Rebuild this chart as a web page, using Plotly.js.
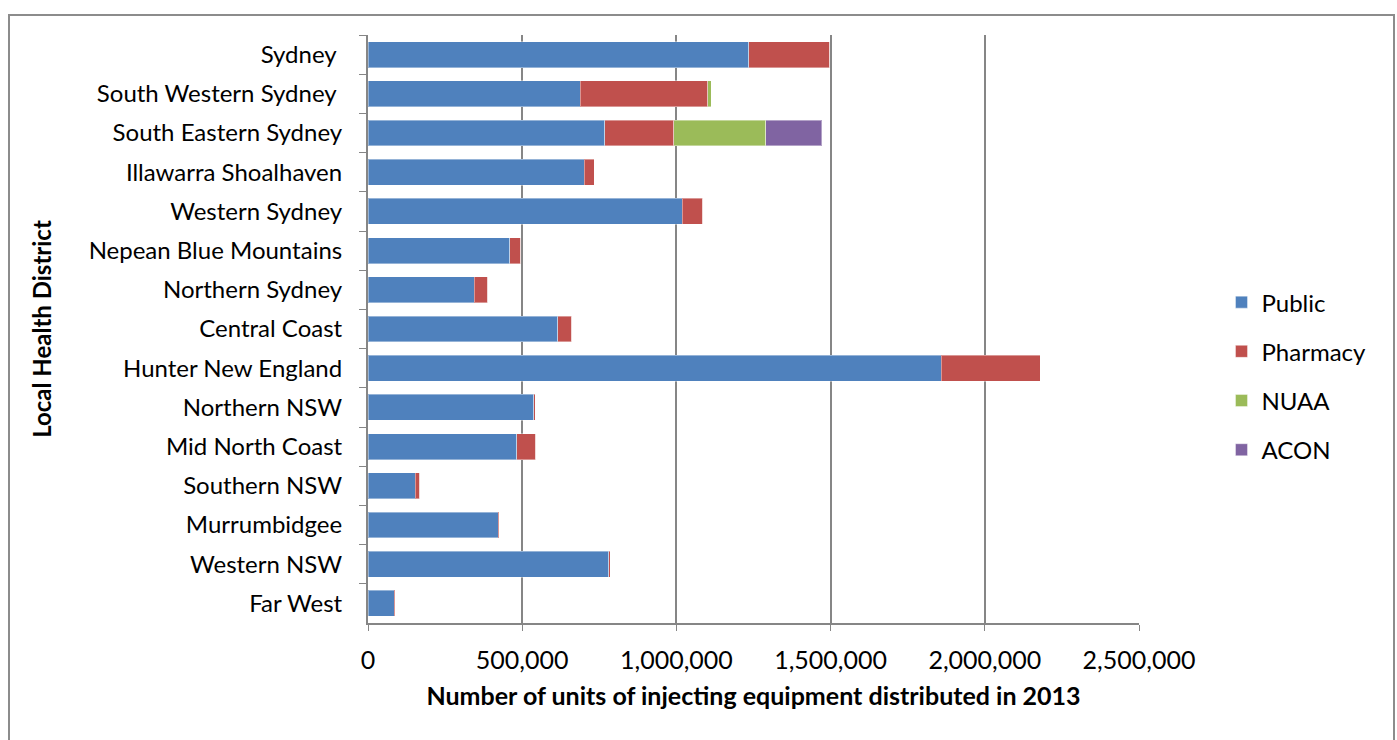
<!DOCTYPE html>
<html>
<head>
<meta charset="utf-8">
<script src="https://cdn.plot.ly/plotly-3.0.1.min.js"></script>
<style>
  html, body { margin: 0; padding: 0; background: #fff; }
  #chart { width: 1397px; height: 740px; }
  #frame { position: absolute; left: 8px; top: 14px; width: 1383px; height: 740px;
           border: 2px solid #8c8c8c; pointer-events: none; }
</style>
</head>
<body>
<div id="chart"></div>
<div id="frame"></div>
<script>
// districts, top to bottom as in the chart
const districts = ['Sydney\u00a0', 'South Western Sydney\u00a0', 'South Eastern Sydney',
  'Illawarra Shoalhaven', 'Western Sydney', 'Nepean Blue Mountains', 'Northern Sydney',
  'Central Coast', 'Hunter New England', 'Northern NSW', 'Mid North Coast',
  'Southern NSW', 'Murrumbidgee', 'Western NSW', 'Far West'];

// units distributed in 2013, by outlet type
const publicUnits   = [1235000, 689000, 768000, 701000, 1019000, 459000, 344000, 615000, 1858000, 537000, 483000, 153000, 422000, 781000, 85000];
const pharmacyUnits = [263000, 412000, 223000, 33000, 67000, 36000, 45000, 46000, 322000, 5000, 61000, 15000, 3000, 4000, 3000];
const nuaaUnits     = [0, 12000, 298000, 0, 0, 0, 0, 0, 0, 0, 0, 0, 0, 0, 0];
const aconUnits     = [0, 0, 182000, 0, 0, 0, 0, 0, 0, 0, 0, 0, 0, 0, 0];

const seriesNames  = ['Public', 'Pharmacy', 'NUAA', 'ACON'];
const seriesValues = [publicUnits, pharmacyUnits, nuaaUnits, aconUnits];
const seriesColors = ['#4f81bd', '#c0504d', '#9bbb59', '#8064a2'];

let traces = [];
for (let i = 0; i < seriesNames.length; i++) {
  traces.push({
    type: 'bar',
    orientation: 'h',
    name: seriesNames[i],
    legendgroup: seriesNames[i],
    y: districts,
    x: seriesValues[i],
    marker: { color: seriesColors[i], line: { color: 'rgba(255,255,255,0.4)', width: 1 } },
    hoverinfo: 'x+y+name'
  });
}

const font = 'Lato, "Open Sans", sans-serif';
const grey = '#868686';

let layout = {
  width: 1397,
  height: 740,
  margin: { l: 368, r: 258, t: 35, b: 117 },
  barmode: 'stack',
  bargap: 0.34,
  paper_bgcolor: 'rgba(0,0,0,0)',
  plot_bgcolor: '#fff',
  font: { family: font, size: 24, color: '#000' },
  xaxis: {
    range: [0, 2500000],
    dtick: 500000,
    tickformat: ',d',
    showgrid: true,
    gridcolor: grey,
    gridwidth: 2,
    zeroline: false,
    showline: true,
    linecolor: grey,
    linewidth: 2,
    ticks: 'outside',
    ticklen: 6,
    tickwidth: 1,
    tickcolor: grey,
    ticklabelstandoff: 8,
    tickfont: { size: 25 },
    title: {
      text: '<b>Number of units of injecting equipment distributed in 2013</b>',
      font: { size: 25 },
      standoff: 14
    }
  },
  yaxis: {
    type: 'category',
    autorange: 'reversed',
    showline: true,
    linecolor: grey,
    linewidth: 2,
    ticks: 'outside',
    tickson: 'boundaries',
    ticklen: 7,
    tickwidth: 1,
    tickcolor: grey,
    ticklabelstandoff: 19,
    showgrid: false,
    tickfont: { size: 24 },
    title: {
      text: '<b>Local Health District</b>',
      font: { size: 24 },
      standoff: 30
    }
  },
  legend: {
    x: 1.107,
    xanchor: 'left',
    y: 0.42,
    yanchor: 'middle',
    traceorder: 'grouped',
    tracegroupgap: 15,
    font: { size: 24 },
    bgcolor: 'rgba(0,0,0,0)'
  },
  showlegend: true
};

Plotly.newPlot('chart', traces, layout, { displayModeBar: false, responsive: false });
</script>
</body>
</html>
